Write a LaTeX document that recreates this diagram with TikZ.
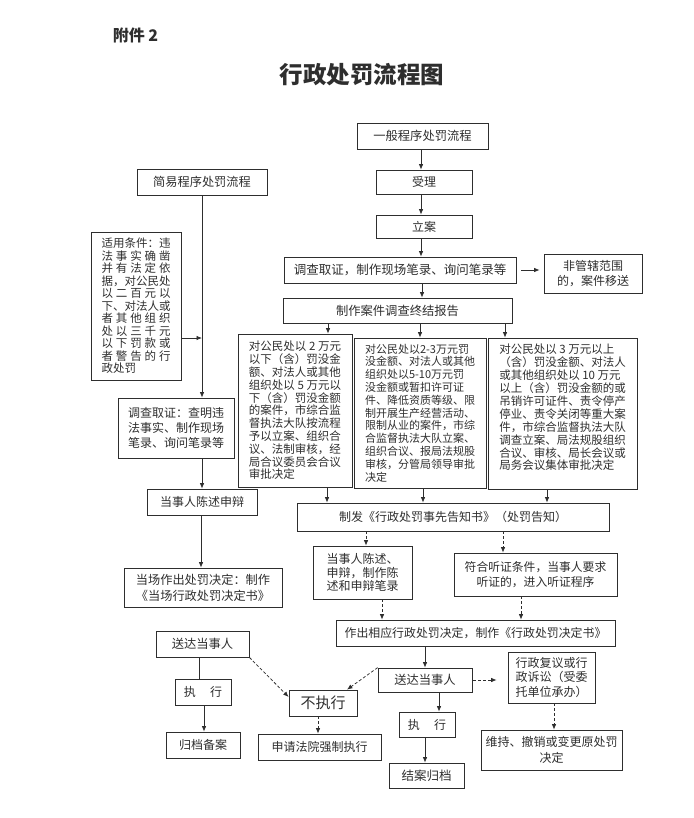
\documentclass[tikz,border=0pt]{standalone}
\usepackage{fontspec}
\setmainfont{Noto Sans CJK SC}
\usetikzlibrary{arrows.meta}
\definecolor{ink}{HTML}{2E2E2E}
\newcommand\fs[2]{\fontsize{#1}{#2}\selectfont}
\newcommand\sline[1]{\makebox[69pt][l]{#1}}
\begin{document}
\begin{tikzpicture}[x=1pt,y=-1pt,
  box/.style={draw=ink, line width=0.75pt, text=ink, inner sep=1pt, align=center, font=\fs{12}{15}},
  wh/.style 2 args={minimum width=#1pt, minimum height=#2pt},
  arr/.style={draw=ink, line width=0.75pt, -{Latex[length=5.5pt,width=4.5pt]}},
  dsh/.style={arr, dash pattern=on 3pt off 2pt},
  ln/.style={draw=ink, line width=0.75pt}]
\useasboundingbox (0,0) rectangle (693,818);

\node[font=\fs{16}{18}\bfseries, text=ink] (fj) at (135.5,35) {附件 2};
\node[font=\fs{23.5}{26}\bfseries, text=ink] (title) at (362,75) {行政处罚流程图};

\node[box, wh={131}{26}, font=\fs{12.3}{15}] (yiban) at (422.5,136) {一般程序处罚流程};
\node[box, wh={96}{24}] (shouli) at (424,182) {受理};
\node[box, wh={96}{23}] (lian) at (424,226.5) {立案};
\node[box, wh={232}{26}, font=\fs{12.5}{15}] (diaocha) at (400,270) {调查取证，制作现场笔录、询问笔录等};
\node[box, wh={98}{39}, font=\fs{12}{15.5}] (feiguan) at (593,273.5) {非管辖范围\\的，案件移送};
\node[box, wh={130}{26}, font=\fs{12.2}{15}] (jianyi) at (202,182) {简易程序处罚流程};
\node[box, wh={90}{148}, font=\fs{11.5}{12.5}, align=left] (shiyong) at (136,306) {%
\sline{适用条件：违}\\
\sline{法\hfill 事\hfill 实\hfill 确\hfill 凿}\\
\sline{并\hfill 有\hfill 法\hfill 定\hfill 依}\\
\sline{据，对公民处}\\
\sline{以\hfill 二\hfill 百\hfill 元\hfill 以}\\
\sline{下、对法人或}\\
\sline{者\hfill 其\hfill 他\hfill 组\hfill 织}\\
\sline{处\hfill 以\hfill 三\hfill 千\hfill 元}\\
\sline{以\hfill 下\hfill 罚\hfill 款\hfill 或}\\
\sline{者\hfill 警\hfill 告\hfill 的\hfill 行}\\
\sline{政处罚}};
\node[box, wh={229}{25}, font=\fs{12.3}{15}] (zhizuo) at (397.5,310.5) {制作案件调查终结报告};

\node[box, wh={114}{153}, font=\fs{11.5}{12.8}, align=left] (b1) at (295,410.5) {%
对公民处以 2 万元\\
以下（含）罚没金\\
额、对法人或其他\\
组织处以 5 万元以\\
下（含）罚没金额\\
的案件，市综合监\\
督执法大队按流程\\
予以立案、组织合\\
议、法制审核，经\\
局合议委员会合议\\
审批决定};
\node[box, wh={132}{150}, font=\fs{11}{12.8}, align=left] (b2) at (420,413) {%
对公民处以2-3万元罚\\
没金额、对法人或其他\\
组织处以5-10万元罚\\
没金额或暂扣许可证\\
件、降低资质等级、限\\
制开展生产经营活动、\\
限制从业的案件，市综\\
合监督执法大队立案、\\
组织合议、报局法规股\\
审核，分管局领导审批\\
决定};
\node[box, wh={149}{151}, font=\fs{11.5}{12.9}, align=left] (b3) at (562.5,413.5) {%
对公民处以 3 万元以上\\
（含）罚没金额、对法人\\
或其他组织处以 10 万元\\
以上（含）罚没金额的或\\
吊销许可证件、责令停产\\
停业、责令关闭等重大案\\
件，市综合监督执法大队\\
调查立案、局法规股组织\\
合议、审核、局长会议或\\
局务会议集体审批决定\\
\mbox{}};

\node[box, wh={116}{60}, font=\fs{12}{15}] (chacha) at (176,428) {调查取证：查明违\\法事实、制作现场\\笔录、询问笔录等};
\node[box, wh={110}{26}] (csL) at (202,502) {当事人陈述申辩};
\node[box, wh={312}{28}] (zhifa) at (453,517) {制发《行政处罚事先告知书》（处罚告知）};
\node[box, wh={158}{39}, font=\fs{12.2}{16}] (dc) at (203,587.5) {当场作出处罚决定：制作\\《当场行政处罚决定书》};
\node[box, wh={99}{53}, font=\fs{12}{13.5}] (cs2) at (362.5,572.5) {当事人陈述、\\申辩，制作陈\\述和申辩笔录};
\node[box, wh={163}{43}, font=\fs{11.8}{15}] (tz) at (535.5,574.5) {符合听证条件，当事人要求\\听证的，进入听证程序};
\node[box, wh={279}{26}, font=\fs{11.9}{15}] (zc) at (475.5,633) {作出相应行政处罚决定，制作《行政处罚决定书》};

\node[box, wh={93}{26}, font=\fs{12.3}{15}] (sdL) at (202.5,644) {送达当事人};
\node[box, wh={56}{26}] (zxL) at (203,692) {执\hspace{1.2em}行};
\node[box, wh={74}{26}] (gd) at (203,745) {归档备案};
\node[box, wh={68}{26}, font=\fs{15}{17}] (bzx) at (323,703) {不执行};
\node[box, wh={123}{26}] (sq) at (319.5,747) {申请法院强制执行};
\node[box, wh={94}{24}, font=\fs{12.3}{15}] (sdR) at (425,680) {送达当事人};
\node[box, wh={56}{25}] (zxR) at (427,724.5) {执\hspace{1.2em}行};
\node[box, wh={75}{25}, font=\fs{12.5}{15}] (ja) at (426.5,775.5) {结案归档};
\node[box, wh={87}{51}, font=\fs{12}{14.5}] (fy) at (551.5,677.5) {行政复议或行\\政诉讼（受委\\托单位承办）};
\node[box, wh={141}{40}, font=\fs{12}{15.5}] (wc) at (551.5,750) {维持、撤销或变更原处罚\\决定};

% connectors
\draw[arr] (yiban.south -| 421,0) -- (shouli.north -| 421,0);
\draw[arr] (shouli.south -| 421,0) -- (lian.north -| 421,0);
\draw[arr] (lian.south -| 421,0) -- (diaocha.north -| 421,0);
\draw[arr] (diaocha.south -| 422,0) -- (zhizuo.north -| 422,0);
\draw[arr, shorten <=5pt, shorten >=4pt] (diaocha.east) -- (diaocha.east -| feiguan.west);
\draw[arr] (jianyi.south) -- (jianyi.south |- chacha.north);
\coordinate (jn) at (202,338);
\draw[arr] (shiyong.east |- jn) -- (jn);
\draw[arr] (chacha.south -| csL.north) -- (csL.north);
\draw[arr] (csL.south -| 201,0) -- (dc.north -| 201,0);
\draw[arr] (zhizuo.south -| 328,0) -- (b1.north -| 328,0);
\draw[arr] (zhizuo.south -| b2.north) -- (b2.north);
\draw[arr] (zhizuo.south -| 505,0) -- (b3.north -| 505,0);
\draw[arr] (b1.south -| 327,0) -- (zhifa.north -| 327,0);
\draw[arr] (b2.south -| 423,0) -- (zhifa.north -| 423,0);
\draw[arr] (b3.south -| 547,0) -- (zhifa.north -| 547,0);
\draw[dsh] (zhifa.south -| 366,0) -- (cs2.north -| 366,0);
\draw[dsh] (zhifa.south -| 503,0) -- (tz.north -| 503,0);
\draw[dsh] (cs2.south -| 382,0) -- (zc.north -| 382,0);
\draw[dsh] (tz.south -| 521,0) -- (zc.north -| 521,0);
\draw[arr] (zc.south -| 425,0) -- (sdR.north -| 425,0);
\draw[dsh, shorten <=1pt, shorten >=11pt] (sdR.east) -- (sdR.east -| fy.west);
\draw[dsh] (fy.south -| 554,0) -- (wc.north -| 554,0);
\draw[arr] (sdR.south -| 439,0) -- (zxR.north -| 439,0);
\draw[arr] (zxR.south -| 425,0) -- (ja.north -| 425,0);
\draw[dsh] (sdR.north west) -- (bzx.north -| 347,0);
\draw[dsh] (sdL.south east) -- (bzx.west |- 0,697);
\draw[ln] (sdL.south -| 199,0) -- (zxL.north -| 199,0);
\draw[arr] (zxL.south -| 204,0) -- (gd.north -| 204,0);
\draw[dsh] (bzx.south -| 318,0) -- (sq.north -| 318,0);
\end{tikzpicture}
\end{document}
